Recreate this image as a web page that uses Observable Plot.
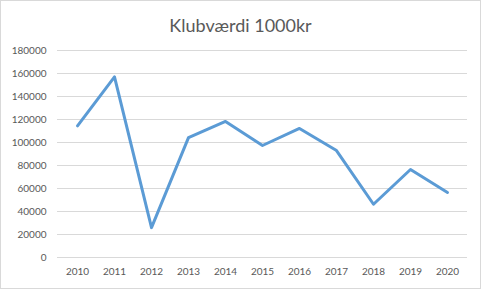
<!DOCTYPE html>
<html>
<head>
<meta charset="utf-8">
<script src="https://cdn.jsdelivr.net/npm/d3@7"></script>
<script src="https://cdn.jsdelivr.net/npm/@observablehq/plot@0.6"></script>
<style>
  body { margin: 0; background: #fff; }
  #chart { position: relative; width: 481px; height: 289px; box-sizing: border-box; border: 1px solid #d9d9d9; background: #fff; overflow: hidden; }
  #title { height: 39px; line-height: 48px; text-align: center; font-family: Lato, "Open Sans", sans-serif; font-size: 18px; color: #595959; }
  svg { display: block; }
</style>
</head>
<body>
<div id="chart"><div id="title">Klubværdi 1000kr</div></div>
<script>
const years = ["2010","2011","2012","2013","2014","2015","2016","2017","2018","2019","2020"];
const values = [114500, 157000, 26000, 104300, 118300, 97400, 112200, 93000, 46300, 76500, 56500];
const yTicks = [0, 20000, 40000, 60000, 80000, 100000, 120000, 140000, 160000, 180000];

const data = years.map((y, i) => ({year: y, value: values[i]}));

const plot = Plot.plot({
  width: 479,
  height: 248,
  marginTop: 10,
  marginBottom: 31,
  marginLeft: 56,
  marginRight: 13,
  style: {fontFamily: "Lato, 'Open Sans', sans-serif", fontSize: "10px", color: "#595959", background: "#fff"},
  x: {type: "point", domain: years, padding: 0.5, label: null, tickSize: 0, tickPadding: 10},
  y: {domain: [0, 180000], ticks: yTicks, tickFormat: d => String(d), label: null, tickSize: 0, tickPadding: 11},
  marks: [
    Plot.gridY(yTicks, {stroke: "#d9d9d9", strokeOpacity: 1, strokeWidth: 1}),
    Plot.axisX({tickSize: 0, tickPadding: 10, fill: "#595959"}),
    Plot.axisY(yTicks, {tickSize: 0, tickPadding: 11, tickFormat: d => String(d), fill: "#595959"}),
    Plot.line(data, {x: "year", y: "value", stroke: "#5b9bd5", strokeWidth: 3, strokeLinejoin: "round", strokeLinecap: "round"})
  ]
});
document.getElementById("chart").appendChild(plot);
</script>
</body>
</html>
